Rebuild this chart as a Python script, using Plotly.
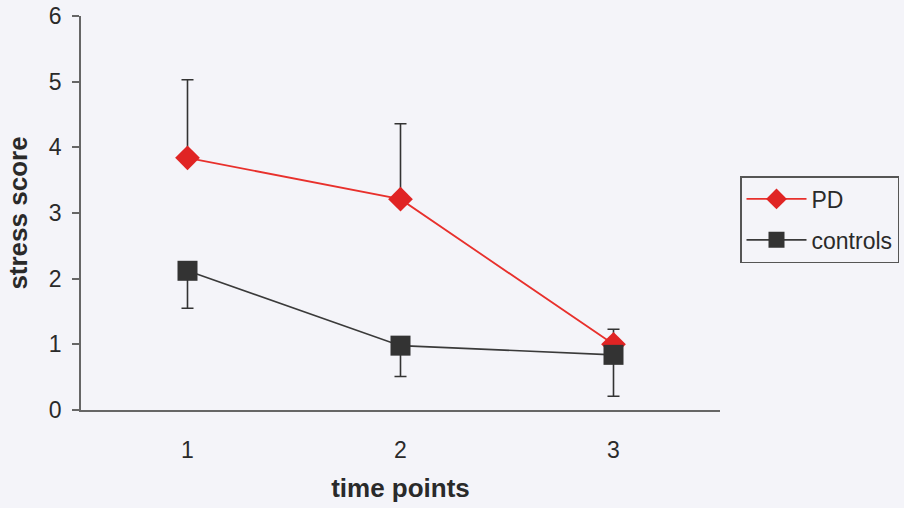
import plotly.graph_objects as go

time_points = [1, 2, 3]
pd_mean = [3.84, 3.21, 1.00]
pd_upper = [5.03, 4.36, 1.23]
ctrl_mean = [2.12, 0.98, 0.84]
ctrl_lower = [1.55, 0.51, 0.21]

bg = "#f4f4f9"
axis_col = "#666666"
txt = "#2a2a2a"
font_family = "Liberation Sans, Arial, sans-serif"

pd_err = [u - m for u, m in zip(pd_upper, pd_mean)]
ctrl_err = [m - l for m, l in zip(ctrl_mean, ctrl_lower)]

fig = go.Figure()
fig.add_trace(go.Scatter(
    x=time_points, y=pd_mean, name="PD", mode="lines+markers", legendgroup="pd",
    line=dict(color="#e8302c", width=1.8),
    marker=dict(symbol="diamond", size=19, color="#e02424"),
    error_y=dict(type="data", symmetric=False, array=pd_err,
                 arrayminus=[0, 0, 0], color="#333333", thickness=1.6, width=6),
))
fig.add_trace(go.Scatter(
    x=time_points, y=ctrl_mean, name="controls", mode="lines+markers",
    legendgroup="ctrl",
    line=dict(color="#3a3a3a", width=1.6),
    marker=dict(symbol="square", size=20, color="#333333"),
    error_y=dict(type="data", symmetric=False, array=[0, 0, 0],
                 arrayminus=ctrl_err, color="#333333", thickness=1.6, width=6),
))

fig.update_layout(
    width=904, height=508,
    margin=dict(l=81, r=184, t=16, b=98, autoexpand=False),
    paper_bgcolor=bg, plot_bgcolor=bg,
    font=dict(family=font_family, size=20, color=txt),
    showlegend=True,
    legend=dict(xref="container", yref="container", x=740 / 904, y=1 - 176 / 508,
                xanchor="left", yanchor="top", itemwidth=60,
                bgcolor=bg, bordercolor="#555555", borderwidth=1.5,
                font=dict(size=23, color=txt), tracegroupgap=8),
)
fig.update_xaxes(
    range=[0.5, 3.5], tickvals=time_points, ticktext=[str(t) for t in time_points],
    showgrid=False, zeroline=False, showline=True, linecolor=axis_col, linewidth=1.5,
    automargin=False,
    ticks="", ticklabelstandoff=19, tickfont=dict(size=23, color=txt),
    title=dict(text="<b>time points</b>", standoff=16, font=dict(size=26, color=txt)),
)
fig.update_yaxes(
    range=[0, 6], tickvals=[0, 1, 2, 3, 4, 5, 6],
    showgrid=False, zeroline=False, showline=True, linecolor=axis_col, linewidth=1.5,
    automargin=False,
    ticks="outside", ticklen=7, tickcolor=axis_col, tickwidth=1.5,
    ticklabelstandoff=6, tickfont=dict(size=23, color=txt),
    title=dict(text="<b>stress score</b>", standoff=14, font=dict(size=26, color=txt)),
)

fig.write_html("out.html")
